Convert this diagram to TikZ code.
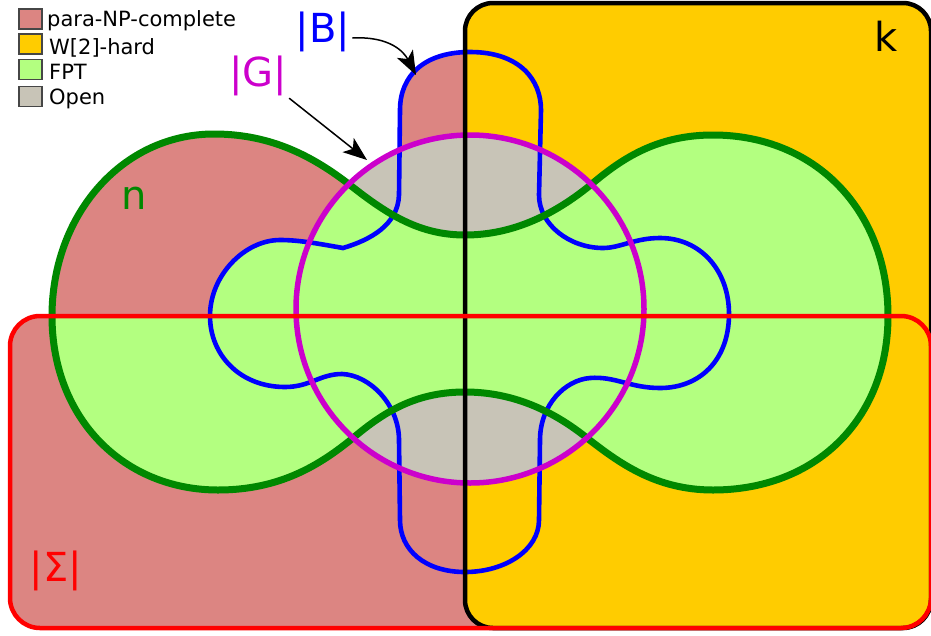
\documentclass[tikz,border=0pt]{standalone}
\usepackage{fontspec}
\setmainfont{DejaVu Sans}
\usetikzlibrary{arrows.meta}
\definecolor{pnp}{RGB}{220,133,130}
\definecolor{wtwo}{RGB}{255,204,0}
\definecolor{fpt}{RGB}{179,255,128}
\definecolor{openc}{RGB}{200,196,183}
\definecolor{ngreen}{RGB}{0,136,0}
\definecolor{gmag}{RGB}{204,0,204}
\definecolor{bblue}{RGB}{0,0,255}
\definecolor{sred}{RGB}{255,0,0}
\def\pathSig{[rounded corners=30pt] (10,316) rectangle (931,628)}
\def\pathKay{[rounded corners=28pt] (465,3) rectangle (931,628)}
\def\pathGee{(470,309) circle[radius=174]}
\def\pathEnn{(52,316) .. controls (52,215) and (122,134) .. (214,134)
  .. controls (273,134) and (315,158) .. (350,185)
  .. controls (388,215) and (420,235) .. (465,235)
  .. controls (510,235) and (552,217) .. (593,183)
  .. controls (625,156) and (660,135) .. (713,135)
  .. controls (815,135) and (888,210) .. (888,316)
  .. controls (888,420) and (815,490) .. (713,490)
  .. controls (655,490) and (618,462) .. (587,438)
  .. controls (552,410) and (512,392) .. (465,392)
  .. controls (418,392) and (386,410) .. (353,438)
  .. controls (320,465) and (280,490) .. (218,490)
  .. controls (125,490) and (52,420) .. (52,316) -- cycle}
\def\pathBee{(470,52) .. controls (520,52) and (541,80) .. (541,110)
  -- (539,195) .. controls (539,225) and (570,248) .. (603,248)
  .. controls (620,248) and (635,238) .. (660,238)
  .. controls (700,238) and (729,270) .. (729,314)
  .. controls (729,360) and (700,388) .. (660,388)
  .. controls (630,388) and (615,376) .. (590,378)
  .. controls (565,380) and (540,405) .. (540,440)
  -- (539,520) .. controls (539,550) and (505,572) .. (465,572)
  .. controls (425,572) and (400,550) .. (400,520)
  -- (399,440) .. controls (399,405) and (370,375) .. (342,374)
  .. controls (320,374) and (310,387) .. (285,387)
  .. controls (240,387) and (210,355) .. (210,316)
  .. controls (210,275) and (245,240) .. (280,240)
  .. controls (300,240) and (320,244) .. (343,248)
  .. controls (370,240) and (398,225) .. (399,195)
  -- (400,110) .. controls (400,75) and (425,52) .. (470,52) -- cycle}
\begin{document}
\begin{tikzpicture}[x=1pt,y=-1pt,
  legbox/.style={draw={rgb,255:red,70;green,70;blue,70},line width=1.2pt,minimum width=23pt,minimum height=20pt,inner sep=0pt},
  legtext/.style={anchor=base west,inner sep=0pt,font=\fontsize{21}{25}\selectfont},
  biglabel/.style={inner sep=2pt,font=\fontsize{40}{48}\selectfont},
  arr/.style={draw=black,line width=1.5pt,-{Stealth[length=24pt,width=18pt,inset=6pt]}}]
\useasboundingbox (0,0) rectangle (931,635);
% fills
\fill[pnp] \pathSig;
\fill[pnp] \pathEnn;
\fill[pnp] \pathBee;
\fill[wtwo] \pathKay;
\fill[openc] \pathGee;
\begin{scope}
  \clip \pathEnn;
  \fill[fpt] \pathSig;
  \fill[fpt] \pathKay;
  \fill[fpt] \pathGee;
  \fill[fpt] \pathBee;
\end{scope}
% outlines
\draw[bblue,line width=4.6pt] \pathBee;
\draw[ngreen,line width=7pt] \pathEnn;
\draw[gmag,line width=5.5pt] \pathGee;
\draw[black,line width=4.5pt] \pathKay;
\draw[sred,line width=4.5pt] \pathSig;
% legend
\node[legbox,fill=pnp] (l1) at (30.5,19) {};
\node[legbox,fill=wtwo] (l2) at (30.5,44) {};
\node[legbox,fill=fpt] (l3) at (30.5,69.5) {};
\node[legbox,fill=openc] (l4) at (30.5,96.5) {};
\node[legtext] (t1) at (47,26) {para-NP-complete};
\node[legtext] (t2) at (49,54) {W[2]-hard};
\node[legtext] (t3) at (49,79) {FPT};
\node[legtext] (t4) at (49,104) {Open};
% labels
\node[biglabel,text=bblue] (B) at (323,32) {|B|};
\node[biglabel,text=gmag] (G) at (258,76) {|G|};
\node[biglabel,text=ngreen] (n) at (134,198) {n};
\node[biglabel,text=black] (k) at (886,36) {k};
\node[biglabel,text=sred] (S) at (56,571) {|Σ|};
\coordinate (Btip) at (416,75);
\coordinate (Gtip) at (367,160);
\draw[arr] ([yshift=-6pt]B.east) .. controls (390,36) and (404,52) .. (Btip);
\draw[arr] (G.south east) -- (Gtip);
\end{tikzpicture}
\end{document}
